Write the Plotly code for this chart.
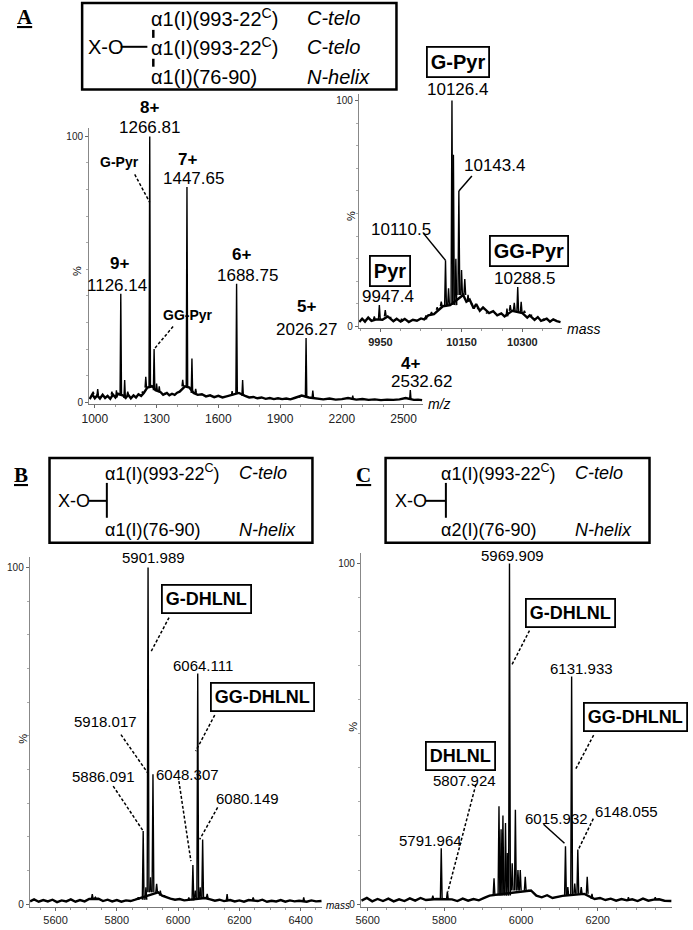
import plotly.graph_objects as go

W, H = 693, 930

# ======================= DATA =======================
# Panel A - charge state envelope (m/z, % intensity)
a_peak_mz = [992, 1014, 1083, 1105, 1126.14, 1145, 1160, 1232, 1247.6, 1266.81, 1272, 1288, 1300, 1313, 1340,
             1427, 1447.65, 1471.8, 1490, 1667, 1688.75, 1718, 1995, 2026.27, 2059, 2253, 2532.62]
a_peak_int = [4, 5, 4, 4.5, 40.8, 8.4, 4, 4, 9.6, 100, 6.5, 20, 7, 6, 3.5,
              8.4, 81, 16.5, 5, 4.2, 44.6, 8.4, 2, 24.2, 4.4, 2.5, 4.6]
a_noise_mz = [975, 988, 1000, 1012, 1025, 1038, 1050, 1062, 1075, 1088, 1100, 1112, 1138, 1150, 1162, 1175, 1188,
              1200, 1212, 1225, 1238, 1255, 1280, 1295, 1320, 1332, 1350, 1362, 1375, 1388, 1400, 1412, 1438, 1460,
              1480, 1500, 1520, 1540, 1560, 1580, 1600, 1620, 1640, 1655, 1700, 1730, 1750, 1770, 1790, 1810, 1830,
              1850, 1870, 1890, 1910, 1930, 1950, 1970, 2005, 2040, 2080, 2110, 2140, 2170, 2200, 2230, 2270, 2300,
              2330, 2360, 2390, 2420, 2450, 2480, 2510, 2550, 2570, 2590]
a_noise_int = [1.2, 3.0, 1.5, 2.6, 1.4, 2.8, 1.6, 2.4, 1.3, 2.9, 1.8, 3.2, 2.5, 1.6, 2.8, 1.5, 2.6,
               1.8, 3.0, 2.4, 3.5, 5.5, 6.0, 4.5, 3.8, 2.8, 3.5, 2.6, 3.2, 2.8, 3.6, 4.0, 6.0, 5.5,
               3.5, 2.8, 3.0, 2.2, 2.6, 1.9, 2.4, 1.8, 2.2, 2.6, 3.5, 2.4, 1.8, 2.0, 1.5, 1.8, 1.3,
               1.6, 1.2, 1.5, 1.2, 1.4, 1.1, 1.6, 2.5, 1.8, 1.3, 1.1, 1.4, 1.0, 1.2, 1.6, 1.0, 1.2,
               0.9, 1.1, 0.8, 1.0, 0.9, 1.1, 1.6, 0.9, 1.0, 0.8]
a_ticks = [1000, 1300, 1600, 1900, 2200, 2500]
a_label_text = ["8+", "1266.81", "7+", "1447.65", "9+", "1126.14", "6+", "1688.75", "5+", "2026.27",
                "4+", "2532.62", "G-Pyr", "GG-Pyr"]
a_label_mz = [1266.81, 1266.81, 1447.65, 1447.65, 1126.14, 1126.14, 1688.75, 1688.75, 2026.27, 2026.27,
              2532.62, 2532.62, 1266.81, 1288]

# Panel A inset - deconvoluted (mass, %)
i_peak_mass = [9935, 9947.4, 9962, 9975, 10002, 10062, 10076, 10090, 10100, 10110.5, 10118, 10126.4, 10130, 10136,
               10143.4, 10150, 10158, 10166, 10175, 10190, 10212, 10262, 10270, 10280, 10288.5, 10297, 10305,
               10322, 10352]
i_peak_int = [4.5, 9.5, 7.3, 4, 3.5, 5, 6.5, 8.5, 11, 29.3, 17, 100, 76, 30,
              60, 25, 21, 14, 10, 8, 6, 8, 9.5, 10.5, 17.5, 11, 7,
              5, 3.5]
i_noise_mass = [9898, 9905, 9912, 9920, 9928, 9940, 9955, 9968, 9982, 9990, 10000, 10010, 10020, 10030, 10040,
                10050, 10058, 10068, 10082, 10095, 10104, 10122, 10154, 10162, 10170, 10180, 10186, 10195, 10203,
                10218, 10228, 10238, 10248, 10256, 10275, 10300, 10312, 10318, 10330, 10338, 10346, 10360, 10368,
                10376, 10385, 10394]
i_noise_int = [2.0, 3.5, 2.2, 4.0, 2.5, 3.2, 3.0, 4.5, 2.4, 3.5, 2.2, 3.4, 2.0, 3.0, 2.6,
               3.6, 3.2, 5.0, 5.5, 7.5, 9.0, 9.5, 14, 11, 12, 8, 10, 7, 8.5,
               6, 6.8, 5, 5.8, 4.5, 7, 6, 4, 5, 3, 4.2, 2.5, 3.5, 2.2,
               3.2, 2.4, 2.0]
i_ticks = [9950, 10150, 10300]
i_label_text = ["10126.4", "G-Pyr", "10143.4", "10110.5", "9947.4", "Pyr", "10288.5", "GG-Pyr"]
i_label_mass = [10126.4, 10126.4, 10143.4, 10110.5, 9947.4, 9947.4, 10288.5, 10288.5]

# Panel B
b_peak_mass = [5720, 5730, 5870, 5886.091, 5895, 5901.989, 5910, 5918.017, 5930, 5942, 5955, 6035, 6048.307,
               6056, 6064.111, 6072, 6080.149, 6095, 6160, 6245, 6410]
b_peak_int = [3, 2, 2, 21.7, 5, 100, 8, 38.6, 6, 4, 2.5, 2, 11.6,
              4, 68.5, 5, 19.2, 3, 3, 2, 2]
b_noise_mass = [5517, 5530, 5545, 5560, 5575, 5590, 5605, 5620, 5635, 5650, 5665, 5680, 5695, 5710, 5740, 5755,
                5770, 5785, 5800, 5815, 5830, 5845, 5860, 5935, 5948, 5962, 5975, 5990, 6005, 6020, 6088, 6105,
                6120, 6135, 6150, 6170, 6185, 6200, 6215, 6230, 6260, 6275, 6290, 6305, 6320, 6335, 6350, 6365,
                6380, 6395, 6420, 6435, 6450, 6468]
b_noise_int = [0.8, 1.4, 0.7, 1.2, 0.8, 1.3, 0.6, 1.1, 0.8, 1.4, 0.7, 1.2, 0.8, 1.5, 1.6, 0.9,
               1.3, 0.8, 1.2, 0.7, 1.1, 0.9, 1.3, 3.5, 2.5, 2.0, 1.6, 1.3, 1.5, 1.1, 1.8, 1.4,
               1.0, 1.3, 0.9, 1.2, 0.8, 1.1, 0.7, 1.2, 0.9, 1.3, 0.7, 1.0, 0.8, 1.2, 0.7, 1.1,
               0.8, 1.0, 0.7, 1.1, 0.8, 0.9]
b_ticks = [5600, 5800, 6000, 6200, 6400]
b_label_text = ["5901.989", "G-DHLNL", "6064.111", "GG-DHLNL", "5918.017", "5886.091", "6048.307", "6080.149"]
b_label_mass = [5901.989, 5901.989, 6064.111, 6064.111, 5918.017, 5886.091, 6048.307, 6080.149]

# Panel C
c_peak_mass = [5770, 5791.964, 5807.924, 5929.6, 5942.5, 5948, 5952.8, 5959.5, 5964, 5969.909, 5977, 5985.3,
               5992, 5998, 6011, 6020, 6115.9, 6122, 6131.933, 6140, 6148.055, 6157, 6172.6, 6185, 6280, 6350]
c_peak_int = [2.5, 16.4, 3.7, 7.6, 28.7, 22, 26, 23.8, 15, 100, 12, 27.7,
              10, 10, 8, 4, 17, 5, 66.8, 6, 16, 5, 8, 3, 2, 2]
c_noise_mass = [5584, 5598, 5612, 5626, 5640, 5654, 5668, 5682, 5696, 5710, 5724, 5738, 5752, 5780, 5820, 5834,
                5848, 5862, 5876, 5890, 5904, 5918, 6026, 6040, 6054, 6068, 6082, 6096, 6108, 6165, 6192, 6206,
                6220, 6234, 6248, 6262, 6276, 6290, 6304, 6318, 6332, 6346, 6360, 6374, 6392]
c_noise_int = [1.0, 1.8, 0.8, 1.5, 0.9, 1.6, 0.8, 1.4, 0.9, 1.7, 1.0, 1.8, 1.2, 1.5, 1.4, 0.9,
               1.6, 1.0, 1.5, 1.1, 1.8, 2.5, 4.0, 2.5, 2.0, 2.6, 1.8, 2.2, 2.4, 3.0, 1.5, 1.8,
               1.2, 1.6, 1.0, 1.5, 1.1, 1.4, 0.9, 1.6, 1.0, 1.3, 1.4, 1.0, 0.9]
c_ticks = [5600, 5800, 6000, 6200]
c_label_text = ["5969.909", "G-DHLNL", "6131.933", "GG-DHLNL", "DHLNL", "5807.924", "5791.964", "6015.932",
                "6148.055"]
c_label_mass = [5969.909, 5969.909, 6131.933, 6131.933, 5807.924, 5807.924, 5791.964, 6115.9, 6148.055]

# ======================= STYLE / LAYOUT =======================
SANS = "Liberation Sans, Arial, sans-serif"
NARROW = "Liberation Sans Narrow, Arial Narrow, Liberation Sans, sans-serif"
SERIF = "Liberation Serif, Times New Roman, serif"

STYLES = {
    "num17": dict(size=17, bold=False, box=False),
    "charge": dict(size=17, bold=True, box=False),
    "tag": dict(size=14, bold=True, box=False),
    "box20": dict(size=20, bold=True, box=True),
    "num15": dict(size=15, bold=False, box=False),
    "box18": dict(size=18, bold=True, box=True),
}

# per-label placement: style, text offset (dx, dy screen px), leader line (x0, y0, x1, y1 screen px) and dash
A_PLACE = [
    ("charge", 0, -29, None, None), ("num17", 0, -9, None, None),
    ("charge", 1, -27, None, None), ("num17", 7, -8, None, None),
    ("charge", -1, -30, None, None), ("num17", -4, -8, None, None),
    ("charge", 5, -29, None, None), ("num17", 11, -8, None, None),
    ("charge", 0, -31, None, None), ("num17", 0, -8, None, None),
    ("charge", 0, -27, None, None), ("num17", 11, -9, None, None),
    ("tag", -30, 26, (-15, 38, 0, 66), "dash"),
    ("tag", 34, -34, (19, -22.6, 0, 0), "dash"),
]
I_PLACE = [
    ("num17", 6, -11, None, None), ("box20", 6, -39, None, None),
    ("num17", 36, -25, (13, -15, 0, 0), "solid"),
    ("num17", -45, -31, (-22, -27, 0, 0), "solid"),
    ("num17", 9, -9, None, None), ("box20", 11, -34, None, None),
    ("num17", 7, -9, None, None), ("box20", 11, -36, None, None),
]
B_PLACE = [
    ("num15", 5, -10, None, None), ("box18", 58, 31, (21, 50, 3, 84), "dash"),
    ("num15", 5, -8, None, None), ("box18", 65, 23.5, (17, 41.5, -2, 77.5), "dash"),
    ("num15", -47, -52.5, (-32, -39.5, -4.7, -0.5), "dash"),
    ("num15", -40, -55, (-30, -45, 0, 0), "dash"),
    ("num15", -5, -91, (-14, -84, -2, -4), "dash"),
    ("num15", 45, -41, (15, -32, -3, 0), "dash"),
]
C_PLACE = [
    ("num15", 3, -8, None, None), ("box18", 61, 49, (20, 67, 2, 102), "dash"),
    ("num15", 10, -8.5, None, None), ("box18", 64, 40.5, (22, 58.5, 4, 92.5), "dash"),
    ("box18", 13.5, -135, None, None),
    ("num15", 17.5, -111, (28.5, -107, 0.5, 0), "dash"),
    ("num15", -11, -8, None, None),
    ("num15", -9, -28, (-22, -22, -1, -3), "solid"),
    ("num15", 48.5, -38, (15.5, -31, 0.5, 0), "dash"),
]

YTOP, YBOT = 103, -0.8

panels = [
    dict(n="", xpx=(82, 420), xr=(972, 2595), y0=404, y100=137, pk=(a_peak_mz, a_peak_int),
         nz=(a_noise_mz, a_noise_int), hw=3.5, ticks=a_ticks, minor=100,
         tickfont=dict(family=SANS, size=12, color="#222"),
         labels=(a_label_text, a_label_mz), place=A_PLACE),
    dict(n="2", xpx=(355, 560), xr=(9897, 10396.5), y0=328, y100=101, pk=(i_peak_mass, i_peak_int),
         nz=(i_noise_mass, i_noise_int), hw=2.2, ticks=i_ticks, minor=50,
         tickfont=dict(family=SANS, size=11, color="#222", weight="bold"),
         labels=(i_label_text, i_label_mass), place=I_PLACE),
    dict(n="3", xpx=(22, 318), xr=(5515.9, 6470.7), y0=908, y100=570, pk=(b_peak_mass, b_peak_int),
         nz=(b_noise_mass, b_noise_int), hw=2.8, ticks=b_ticks, minor=50,
         tickfont=dict(family=NARROW, size=11, color="#222"),
         labels=(b_label_text, b_label_mass), place=B_PLACE),
    dict(n="4", xpx=(357, 672), xr=(5582.4, 6394.3), y0=908, y100=566, pk=(c_peak_mass, c_peak_int),
         nz=(c_noise_mass, c_noise_int), hw=2.3, ticks=c_ticks, minor=50,
         tickfont=dict(family=NARROW, size=11, color="#222"),
         labels=(c_label_text, c_label_mass), place=C_PLACE),
]

fig = go.Figure()
annotations = []
shapes = []
layout_axes = {}


def paper_x(x):
    return x / W


def paper_y(y):
    return 1 - y / H


def nearest_level(m, nm, ni):
    # baseline level of the closest recorded noise reading (foot of a peak)
    k = min(range(len(nm)), key=lambda j: abs(nm[j] - m))
    return ni[k]


for p in panels:
    n = p["n"]
    xname, yname = "x" + n, "y" + n
    pm, pi = p["pk"]
    nm, ni = p["nz"]
    # stick spectrum: each peak drawn as a narrow spike standing on the baseline
    xs, ys = [], []
    for m, h in zip(pm, pi):
        foot = min(nearest_level(m, nm, ni), h)
        xs += [m - p["hw"], m, m + p["hw"], None]
        ys += [foot, h, foot, None]
    fig.add_trace(go.Scatter(x=nm, y=ni, mode="lines", line=dict(color="black", width=2.4),
                             xaxis=xname, yaxis=yname, hoverinfo="skip"))
    fig.add_trace(go.Scatter(x=xs, y=ys, mode="lines", line=dict(color="black", width=1.4),
                             xaxis=xname, yaxis=yname, hoverinfo="skip"))

    s = (p["y0"] - p["y100"]) / 100.0
    ydom = [paper_y(p["y0"] - YBOT * s), paper_y(p["y0"] - YTOP * s)]
    xdom = [paper_x(p["xpx"][0]), paper_x(p["xpx"][1])]
    layout_axes["xaxis" + n] = dict(
        domain=xdom, range=list(p["xr"]), anchor=yname, tickmode="array", tickvals=p["ticks"],
        ticktext=[str(t) for t in p["ticks"]],
        ticks="outside", ticklen=3, tickcolor="#666", showline=True, linecolor="#777", linewidth=1,
        showgrid=False, zeroline=False, tickfont=p["tickfont"],
        minor=dict(ticks="outside", ticklen=2, dtick=p["minor"], tick0=p["ticks"][0], tickcolor="#999"))
    layout_axes["yaxis" + n] = dict(
        domain=ydom, range=[YBOT, YTOP], anchor=xname, tickmode="array", tickvals=[0, 100],
        ticktext=["0", "100"], ticks="outside", ticklen=3, tickcolor="#666", showline=True,
        linecolor="#888", linewidth=1, showgrid=False, zeroline=False,
        tickfont=dict(family=NARROW, size=10, color="#222"),
        minor=dict(ticks="outside", ticklen=2, dtick=10, tick0=0, tickcolor="#aaa"))

    texts, anchors = p["labels"]
    for t, m, pl in zip(texts, anchors, p["place"]):
        style, dx, dy, line, dash = pl
        st = STYLES[style]
        h = pi[pm.index(m)]
        txt = "<b>%s</b>" % t if st["bold"] else t
        ann = dict(x=m, y=h, xref=xname, yref=yname, text=txt, showarrow=False,
                   xanchor="center", yanchor="middle", xshift=dx, yshift=-dy,
                   font=dict(family=SANS, size=st["size"], color="black"))
        if st["box"]:
            ann.update(bordercolor="black", borderwidth=1.8, borderpad=3, bgcolor="white")
        annotations.append(ann)
        if line is not None:
            x0, y0, x1, y1 = line
            shapes.append(dict(type="line", xref=xname, yref=yname, xsizemode="pixel", ysizemode="pixel",
                               xanchor=m, yanchor=h, x0=x0, x1=x1, y0=-y0, y1=-y1,
                               line=dict(color="black", width=1.5, dash="3px,2px" if dash == "dash" else "solid")))


def ptext(x, y, text, size, xanchor="left", family=SANS, angle=0, color="black"):
    annotations.append(dict(x=paper_x(x), y=paper_y(y), xref="paper", yref="paper", text=text,
                            showarrow=False, xanchor=xanchor, yanchor="middle", textangle=angle,
                            font=dict(family=family, size=size, color=color)))


def pline(x0, y0, x1, y1, w=2):
    shapes.append(dict(type="line", xref="paper", yref="paper", x0=paper_x(x0), y0=paper_y(y0),
                       x1=paper_x(x1), y1=paper_y(y1), line=dict(color="black", width=w)))


def prect(x0, y0, x1, y1, w=2.5):
    shapes.append(dict(type="rect", xref="paper", yref="paper", x0=paper_x(x0), y0=paper_y(y0),
                       x1=paper_x(x1), y1=paper_y(y1), line=dict(color="black", width=w)))


# ---- header box A
prect(75, 3, 393, 90)
ptext(143, 18, "α1(I)(993-22<sup>C</sup>)", 20)
ptext(143, 47, "α1(I)(993-22<sup>C</sup>)", 20)
ptext(143, 77, "α1(I)(76-90)", 20)
ptext(300, 18, "<i>C-telo</i>", 20)
ptext(300, 47, "<i>C-telo</i>", 20)
ptext(300, 77, "<i>N-helix</i>", 20)
ptext(79, 47, "X-O", 20)
pline(114, 47, 141, 47, 2)
pline(147, 30, 147, 38, 2.5)
pline(147, 59, 147, 67, 2.5)

# ---- header box B
prect(42, 460, 308, 545)
ptext(96, 475, "α1(I)(993-22<sup>C</sup>)", 18)
ptext(232, 475, "<i>C-telo</i>", 18)
ptext(49, 503, "X-O", 18)
pline(82, 503, 100, 503, 2)
pline(100, 485, 100, 520, 2)
ptext(96, 532, "α1(I)(76-90)", 18)
ptext(232, 532, "<i>N-helix</i>", 18)

# ---- header box C
prect(382, 460, 649, 545)
ptext(436, 475, "α1(I)(993-22<sup>C</sup>)", 18)
ptext(572, 475, "<i>C-telo</i>", 18)
ptext(389, 503, "X-O", 18)
pline(422, 503, 443, 503, 2)
pline(443, 485, 443, 520, 2)
ptext(436, 532, "α2(I)(76-90)", 18)
ptext(572, 532, "<i>N-helix</i>", 18)

# ---- panel letters
ptext(17, 17, "<u><b>A</b></u>", 21, "center", SERIF)
ptext(13, 477, "<u><b>B</b></u>", 21, "center", SERIF)
ptext(360, 477, "<u><b>C</b></u>", 21, "center", SERIF)

# ---- axis captions
ptext(70, 272, "%", 11, "center", SANS, -90)
ptext(347, 217, "%", 11, "center", SANS, -90)
ptext(15, 742, "%", 11, "center", SANS, -90)
ptext(349, 730, "%", 11, "center", SANS, -90)
ptext(423, 406, "<i>m/z</i>", 14, "left")
ptext(564, 330, "<i>mass</i>", 14, "left")
ptext(320, 909, "<i>mass</i>", 10, "left", NARROW)

fig.update_layout(
    width=W, height=H, margin=dict(l=0, r=0, t=0, b=0), showlegend=False,
    paper_bgcolor="white", plot_bgcolor="rgba(0,0,0,0)",
    annotations=annotations, shapes=shapes, **layout_axes)

fig.write_html("out.html", config={"displayModeBar": False},
               post_script=["document.body.style.margin='0';"])
